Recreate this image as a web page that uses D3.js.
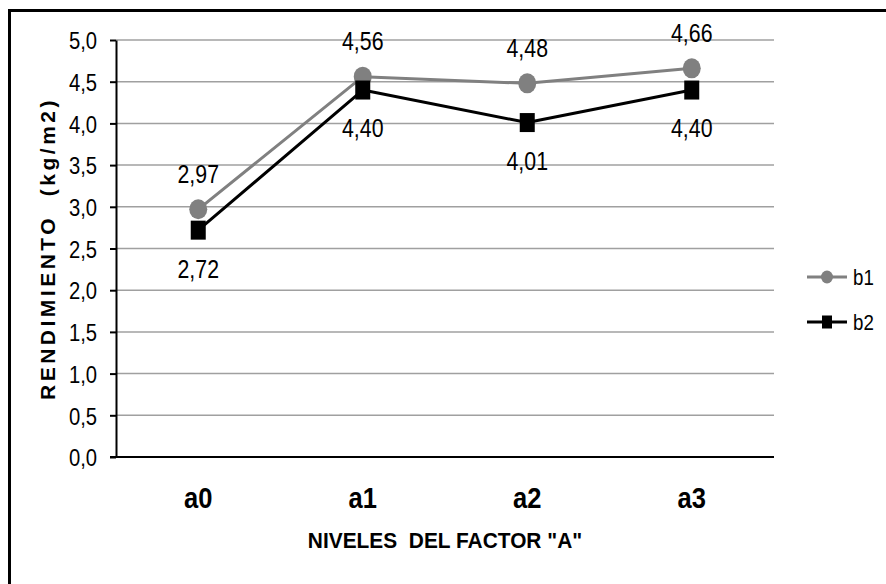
<!DOCTYPE html>
<html>
<head>
<meta charset="utf-8">
<script src="https://cdn.jsdelivr.net/npm/d3@7"></script>
<style>
  html, body { margin: 0; padding: 0; background: #fff; }
  svg { display: block; }
</style>
</head>
<body>
<svg id="chart" width="886" height="584"></svg>
<script>
// Niveles del factor A y rendimiento (kg/m2) para b1 y b2
const categories = ["a0", "a1", "a2", "a3"];
const b1Values = [2.97, 4.56, 4.48, 4.66];
const b2Values = [2.72, 4.40, 4.01, 4.40];
const yTicks = [0, 0.5, 1, 1.5, 2, 2.5, 3, 3.5, 4, 4.5, 5];
const seriesNames = ["b1", "b2"];

const es = d3.formatLocale({ decimal: ",", thousands: ".", grouping: [3], currency: ["", ""] });
const fmt1 = es.format(".1f");
const fmt2 = es.format(".2f");

const svg = d3.select("#chart");
const W = 886, H = 584;
const plot = { left: 116, right: 774, top: 40, bottom: 457 };

const sansFont = "'Liberation Sans', Arial, Helvetica, sans-serif";

// condensed lettering: tall glyphs squeezed horizontally
function condensed(sel, x, y, sx) {
  return sel.attr("x", 0).attr("y", 0)
    .attr("transform", (d, i) => {
      const px = typeof x === "function" ? x(d, i) : x;
      const py = typeof y === "function" ? y(d, i) : y;
      return `translate(${px},${py}) scale(${sx},1)`;
    });
}

svg.append("rect").attr("width", W).attr("height", H).attr("fill", "#fff");

// outer frame (runs off the right and bottom edges)
svg.append("rect")
  .attr("x", 9.5).attr("y", 10.5)
  .attr("width", 1000).attr("height", 1000)
  .attr("fill", "none").attr("stroke", "#000").attr("stroke-width", 3);

const x = d3.scaleBand().domain(categories).range([plot.left, plot.right]);
const cx = c => x(c) + x.bandwidth() / 2;
const y = d3.scaleLinear().domain([0, 5]).range([plot.bottom, plot.top]);

// horizontal gridlines
svg.append("g")
  .selectAll("line")
  .data(yTicks.filter(t => t > 0))
  .join("line")
  .attr("x1", plot.left).attr("x2", plot.right)
  .attr("y1", d => y(d)).attr("y2", d => y(d))
  .attr("stroke", "#a0a0a0").attr("stroke-width", 1.5);

// y axis
const tickScale = 0.88;
const yAxis = svg.append("g")
  .attr("transform", `translate(${plot.left},0)`)
  .call(d3.axisLeft(y).tickValues(yTicks).tickFormat(fmt1).tickSize(6).tickPadding(13).tickSizeOuter(0));
yAxis.select(".domain").attr("stroke", "#000").attr("stroke-width", 2);
yAxis.selectAll(".tick line").attr("stroke", "#000").attr("stroke-width", 2);
yAxis.selectAll(".tick text")
  .attr("font-family", sansFont).attr("font-size", 23).attr("fill", "#000")
  .attr("x", -19 / tickScale)
  .attr("transform", `scale(${tickScale},1)`)
  .attr("dy", "0.38em");

// x axis baseline
svg.append("line")
  .attr("x1", plot.left - 6).attr("x2", plot.right)
  .attr("y1", plot.bottom).attr("y2", plot.bottom)
  .attr("stroke", "#000").attr("stroke-width", 2);

// category labels
condensed(
  svg.append("g").selectAll("text").data(categories).join("text"),
  d => cx(d), 508, 0.88)
  .attr("text-anchor", "middle")
  .attr("font-family", sansFont).attr("font-weight", "bold").attr("font-size", 29)
  .text(d => d);

// axis titles
condensed(svg.append("text"), (plot.left + plot.right) / 2, 548, 0.95)
  .attr("text-anchor", "middle")
  .attr("font-family", sansFont).attr("font-weight", "bold").attr("font-size", 22)
  .attr("xml:space", "preserve")
  .text("NIVELES  DEL FACTOR \"A\"");

svg.append("text")
  .attr("transform", `translate(55,${(plot.top + plot.bottom) / 2}) rotate(-90)`)
  .attr("text-anchor", "middle")
  .attr("font-family", sansFont).attr("font-weight", "bold").attr("font-size", 21)
  .attr("letter-spacing", 3.5)
  .attr("xml:space", "preserve")
  .text("RENDIMIENTO  (kg/m2)");

const line = d3.line().x((d, i) => cx(categories[i])).y(d => y(d));

// b1 series: gray line with round markers
svg.append("path").datum(b1Values)
  .attr("d", line).attr("fill", "none")
  .attr("stroke", "#808080").attr("stroke-width", 3).attr("stroke-linejoin", "round");
svg.append("g").selectAll("ellipse").data(b1Values).join("ellipse")
  .attr("cx", (d, i) => cx(categories[i])).attr("cy", d => y(d))
  .attr("rx", 9).attr("ry", 10).attr("fill", "#808080");

// b2 series: black line with square markers
svg.append("path").datum(b2Values)
  .attr("d", line).attr("fill", "none")
  .attr("stroke", "#000").attr("stroke-width", 3).attr("stroke-linejoin", "round");
svg.append("g").selectAll("rect").data(b2Values).join("rect")
  .attr("x", (d, i) => cx(categories[i]) - 7.5).attr("y", d => y(d) - 9.5)
  .attr("width", 15).attr("height", 19).attr("fill", "#000");

// data labels: b1 above its points, b2 below
const labelScale = 0.82;
condensed(
  svg.append("g").selectAll("text").data(b1Values).join("text"),
  (d, i) => cx(categories[i]), d => y(d) - 36, labelScale)
  .attr("dy", "0.36em").attr("text-anchor", "middle")
  .attr("font-family", sansFont).attr("font-size", 26).attr("fill", "#000")
  .text(d => fmt2(d));
condensed(
  svg.append("g").selectAll("text").data(b2Values).join("text"),
  (d, i) => cx(categories[i]), d => y(d) + 38, labelScale)
  .attr("dy", "0.36em").attr("text-anchor", "middle")
  .attr("font-family", sansFont).attr("font-size", 26).attr("fill", "#000")
  .text(d => fmt2(d));

// legend
const legend = svg.append("g");
const legendRows = [
  { name: seriesNames[0], color: "#808080", shape: "circle", y: 277 },
  { name: seriesNames[1], color: "#000", shape: "square", y: 322 }
];
legendRows.forEach(r => {
  legend.append("line")
    .attr("x1", 807).attr("x2", 847).attr("y1", r.y).attr("y2", r.y)
    .attr("stroke", r.color).attr("stroke-width", 3);
  if (r.shape === "circle") {
    legend.append("ellipse").attr("cx", 827).attr("cy", r.y)
      .attr("rx", 6).attr("ry", 6.5).attr("fill", r.color);
  } else {
    legend.append("rect").attr("x", 822).attr("y", r.y - 6.5)
      .attr("width", 10).attr("height", 13).attr("fill", r.color);
  }
  condensed(legend.append("text"), 853, r.y, 0.85)
    .attr("dy", "0.36em")
    .attr("font-family", sansFont).attr("font-size", 22)
    .text(r.name);
});
</script>
</body>
</html>
